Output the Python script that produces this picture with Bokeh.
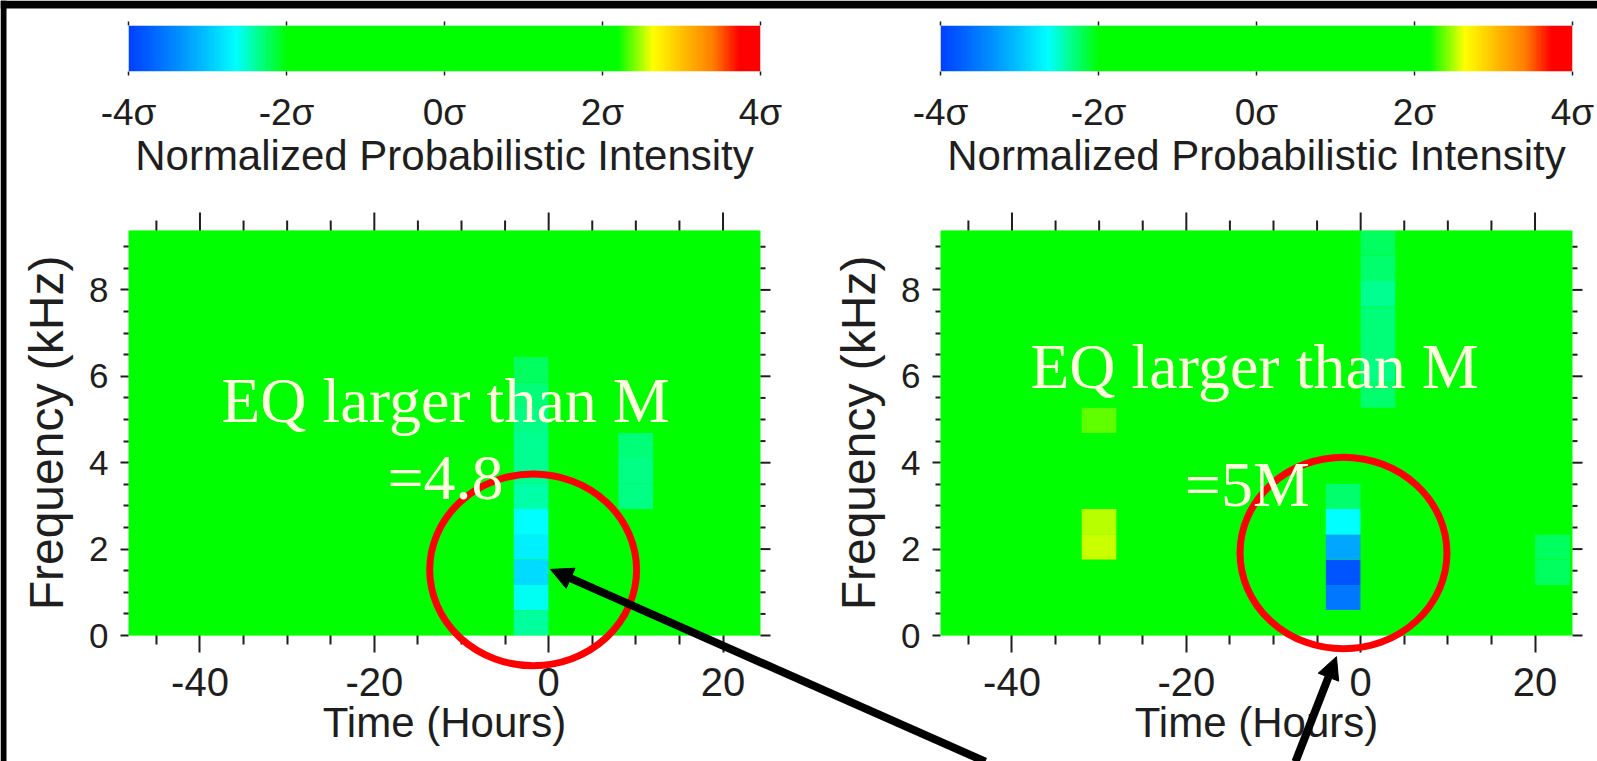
import numpy as np
from bokeh.plotting import figure
from bokeh.layouts import column, row
from bokeh.models import (ColumnDataSource, LinearColorMapper, FixedTicker, LinearAxis,
                          Range1d, Label, Arrow, NormalHead)
from bokeh.transform import transform
from bokeh.embed import file_html
from bokeh.resources import INLINE

# ---------------- data ----------------
time_bins = [-48, -44, -40, -36, -32, -28, -24, -20, -16, -12, -8, -4, 0, 4, 8, 12, 16, 20]
freq_bins = [0.00, 0.59, 1.17, 1.76, 2.34, 2.93, 3.52, 4.10, 4.69, 5.27, 5.86, 6.45, 7.03, 7.62, 8.20, 8.79]
time_width = 4.0
freq_width = 0.586
background_sigma = 0.0

# anomalous cells (time-bin start [h], frequency-bin start [kHz], intensity [sigma])
left_t = [-4, -4, -4, -4, -4, -4, -4, -4, -4, -4, -4, 8, 8, 8]
left_f = [0.00, 0.59, 1.17, 1.76, 2.34, 2.93, 3.52, 4.10, 4.69, 5.27, 5.86, 2.93, 3.52, 4.10]
left_sigma = [-2.40, -2.62, -2.86, -2.74, -2.64, -2.42, -2.37, -2.37, -2.32, -2.30, -2.24,
              -2.32, -2.32, -2.30]

right_t = [-4, -4, -4, -4, -4, 0, 0, 0, 0, 0, 0, 0, -32, -32, -32, 20, 20]
right_f = [0.59, 1.17, 1.76, 2.34, 2.93, 5.27, 5.86, 6.45, 7.03, 7.62, 8.20, 8.79,
           4.69, 2.34, 1.76, 1.17, 1.76]
right_sigma = [-3.56, -3.83, -3.19, -2.65, -2.28, -2.27, -2.32, -2.30, -2.30, -2.35, -2.27, -2.22,
               2.35, 2.50, 2.56, -2.22, -2.22]

time_ticks = [-40, -20, 0, 20]
time_labels = ["-40", "-20", "0", "20"]
time_minor = [-45, -35, -30, -25, -15, -10, -5, 5, 10, 15]
freq_ticks = [0, 2, 4, 6, 8]
freq_minor = [0.5, 1, 1.5, 2.5, 3, 3.5, 4.5, 5, 5.5, 6.5, 7, 7.5, 8.5, 9]

cbar_ticks = [-4, -2, 0, 2, 4]
cbar_labels = ["-4σ", "-2σ", "0σ", "2σ", "4σ"]
cmap_sigma = [-4.0, -3.36, -3.04, -2.65, -2.0, 2.2, 2.65, 3.4, 3.75, 4.0]
cmap_colors = ["#0040ff", "#0090ff", "#00c0ff", "#00ffff", "#00ff00",
               "#00ff00", "#ffff00", "#ff8000", "#ff0000", "#ff0000"]

left_note = ["EQ larger than M", "=4.8"]
right_note = ["EQ larger than M", "=5M"]

# annotation geometry, in each panel's own data units (hours, kHz)
left_note_xy = [(-11.84, 5.44), (-11.84, 3.65)]
right_note_xy = [(-12.18, 6.23), (-13.0, 3.50)]
left_ring = (-1.78, 1.52, 11.87, 2.22)      # centre x, centre y, half-width, half-height
right_ring = (-1.97, 1.91, 11.87, 2.22)
left_arrow = (50.1, -2.92, 0.21, 1.53)      # tail x, tail y, tip x, tip y
right_arrow = (-7.48, -2.92, -2.78, -0.49)

# ---------------- layout / styling ----------------
PAGE_W, PAGE_H = 1597, 761
COL_W = [800, 797]
ROW_H = [200, 561]
X_RANGE = (-48.2, 24.3)
Y_RANGE = (0, 9.375)
FRAME_W, FRAME_H = 632, 405
PANEL_X0 = [128, 940]          # left edge of each panel frame on the page
FRAME_TOP = 230
CB_TOP, CB_H = 25, 46
TEXT = "#1e1e1e"
SANS = "Liberation Sans"


def hex2rgb(h):
    return [int(h[i:i + 2], 16) for i in (1, 3, 5)]


rgb = np.array([hex2rgb(c) for c in cmap_colors], dtype=float)
samples = np.linspace(-4, 4, 256)
palette = ["#%02x%02x%02x" % tuple(int(round(np.interp(v, cmap_sigma, rgb[:, k]))) for k in range(3))
           for v in samples]
mapper = LinearColorMapper(palette=palette, low=-4, high=4)


def page_x(panel, t):
    return PANEL_X0[panel] + (t - X_RANGE[0]) * FRAME_W / (X_RANGE[1] - X_RANGE[0])


def page_y(f):
    return FRAME_TOP + (Y_RANGE[1] - f) * FRAME_H / (Y_RANGE[1] - Y_RANGE[0])


def add_axis(p, side, ticks, minor, out, minor_out, font_size, standoff,
             title, title_size, title_standoff, overrides=None, lw=2):
    ax = LinearAxis(ticker=FixedTicker(ticks=ticks, minor_ticks=minor))
    ax.axis_line_color = None
    ax.major_tick_in = 0
    ax.minor_tick_in = 0
    ax.major_tick_out = out
    ax.minor_tick_out = minor_out
    ax.major_tick_line_color = TEXT
    ax.minor_tick_line_color = TEXT
    ax.major_tick_line_width = lw
    ax.minor_tick_line_width = lw
    ax.major_label_text_font = SANS
    ax.major_label_text_font_size = font_size
    ax.major_label_text_color = TEXT
    ax.major_label_standoff = standoff
    if overrides:
        ax.major_label_overrides = overrides
    ax.axis_label = title
    ax.axis_label_text_font = SANS
    ax.axis_label_text_font_size = title_size
    ax.axis_label_text_font_style = "normal"
    ax.axis_label_text_color = TEXT
    ax.axis_label_standoff = title_standoff
    p.add_layout(ax, side)
    return ax


def grid_source(ts, fs, sig):
    lookup = {(t, f): v for t, f, v in zip(ts, fs, sig)}
    L, R, B, T, V = [], [], [], [], []
    for t in time_bins:
        for f in freq_bins:
            L.append(t)
            R.append(t + time_width)
            B.append(f)
            T.append(f + freq_width)
            V.append(lookup.get((t, f), background_sigma))
    return ColumnDataSource(dict(left=L, right=R, bottom=B, top=T, sigma=V))


def heat_fig(ts, fs, sig, min_left, min_right):
    p = figure(x_range=Range1d(*X_RANGE), y_range=Range1d(*Y_RANGE),
               frame_width=FRAME_W, frame_height=FRAME_H,
               min_border_left=min_left, min_border_right=min_right,
               min_border_top=FRAME_TOP - ROW_H[0],
               min_border_bottom=ROW_H[1] - (FRAME_TOP - ROW_H[0]) - FRAME_H,
               x_axis_location=None, y_axis_location=None,
               output_backend="svg", toolbar_location=None)
    p.grid.visible = False
    p.outline_line_color = None
    p.background_fill_color = "#00ff00"
    p.border_fill_color = "white"
    p.quad(left="left", right="right", bottom="bottom", top="top",
           fill_color=transform("sigma", mapper), line_color=None,
           source=grid_source(ts, fs, sig))
    add_axis(p, "below", time_ticks, time_minor, 17, 9, "40px", 15,
             "Time (Hours)", "42px", 0,
             overrides={t: l for t, l in zip(time_ticks, time_labels)})
    add_axis(p, "left", freq_ticks, freq_minor, 8, 5, "35px", 12,
             "Frequency (kHz)", "48px", 13)
    return p


def cbar_fig(min_left, min_right):
    p = figure(x_range=Range1d(-4, 4), y_range=Range1d(0, 1),
               frame_width=FRAME_W, frame_height=CB_H,
               min_border_left=min_left, min_border_right=min_right,
               min_border_top=CB_TOP, min_border_bottom=ROW_H[0] - CB_TOP - CB_H,
               x_axis_location=None, y_axis_location=None,
               output_backend="svg", toolbar_location=None)
    p.grid.visible = False
    p.outline_line_color = None
    p.background_fill_color = "white"
    p.image(image=[samples[None, :]], x=-4, y=0, dw=8, dh=1, color_mapper=mapper)
    add_axis(p, "below", cbar_ticks, [], 4, 0, "37px", 16,
             "Normalized Probabilistic Intensity", "42px", -4,
             overrides={t: l for t, l in zip(cbar_ticks, cbar_labels)}, lw=1.5)
    return p


cb_left = cbar_fig(PANEL_X0[0], COL_W[0] - PANEL_X0[0] - FRAME_W)
cb_right = cbar_fig(PANEL_X0[1] - COL_W[0], PAGE_W - PANEL_X0[1] - FRAME_W)
hm_left = heat_fig(left_t, left_f, left_sigma, PANEL_X0[0], COL_W[0] - PANEL_X0[0] - FRAME_W)
hm_right = heat_fig(right_t, right_f, right_sigma, PANEL_X0[1] - COL_W[0], PAGE_W - PANEL_X0[1] - FRAME_W)

# ---------------- transparent overlay in page pixels (pulled up over the panels) ----------------
ov = figure(x_range=Range1d(0, PAGE_W), y_range=Range1d(PAGE_H, 0),
            width=PAGE_W, height=PAGE_H, min_border=0,
            min_border_left=0, min_border_right=0, min_border_top=0, min_border_bottom=0,
            x_axis_location=None, y_axis_location=None,
            output_backend="svg", toolbar_location=None,
            margin=(-PAGE_H, 0, 0, 0))
ov.grid.visible = False
ov.outline_line_color = None
ov.background_fill_color = None
ov.border_fill_color = None

# black frame of the original picture
ov.quad(left=[0, 0], right=[PAGE_W, 6], top=[0, 0], bottom=[8, PAGE_H],
        fill_color="black", line_color=None)

# mirrored tick marks on the top and right sides of each panel, and on top of the colour bars
for panel in (0, 1):
    frame_right = PANEL_X0[panel] + FRAME_W
    for ticks, length in ((time_ticks, 18), (time_minor, 10)):
        xs = [page_x(panel, t) for t in ticks]
        ov.segment(x0=xs, y0=[FRAME_TOP] * len(xs), x1=xs, y1=[FRAME_TOP - length] * len(xs),
                   line_color=TEXT, line_width=2)
    for ticks, length in ((freq_ticks, 10), (freq_minor, 5)):
        ys = [page_y(f) for f in ticks]
        ov.segment(x0=[frame_right] * len(ys), y0=ys, x1=[frame_right + length] * len(ys), y1=ys,
                   line_color=TEXT, line_width=2)
    cx = [PANEL_X0[panel] + (s + 4) * FRAME_W / 8 for s in cbar_ticks]
    ov.segment(x0=cx, y0=[CB_TOP] * len(cx), x1=cx, y1=[CB_TOP - 4] * len(cx),
               line_color=TEXT, line_width=1.5)

# red rings
for panel, (rx, ry, ra, rb) in ((0, left_ring), (1, right_ring)):
    cxp, cyp = page_x(panel, rx), page_y(ry)
    wpx = 2 * ra * FRAME_W / (X_RANGE[1] - X_RANGE[0])
    hpx = 2 * rb * FRAME_H / (Y_RANGE[1] - Y_RANGE[0])
    ov.ellipse(x=[cxp], y=[cyp], width=[wpx], height=[hpx],
               fill_color=None, line_color="#ff0000", line_width=7)

# arrows
for panel, (x0, y0, x1, y1) in ((0, left_arrow), (1, right_arrow)):
    ov.add_layout(Arrow(end=NormalHead(size=22, fill_color="black", line_color="black", line_width=1),
                        x_start=page_x(panel, x0), y_start=page_y(y0),
                        x_end=page_x(panel, x1), y_end=page_y(y1),
                        line_width=8, line_color="black"))

# notes
for panel, texts, xys in ((0, left_note, left_note_xy), (1, right_note, right_note_xy)):
    for txt, (x, y) in zip(texts, xys):
        ov.add_layout(Label(x=page_x(panel, x), y=page_y(y), text=txt,
                            text_font="Liberation Serif", text_font_size="64px",
                            text_color="#ffffe0", text_align="center",
                            text_baseline="alphabetic"))

layout = column(row(cb_left, cb_right), row(hm_left, hm_right), ov)

open("out.html", "w").write(file_html(layout, INLINE))
